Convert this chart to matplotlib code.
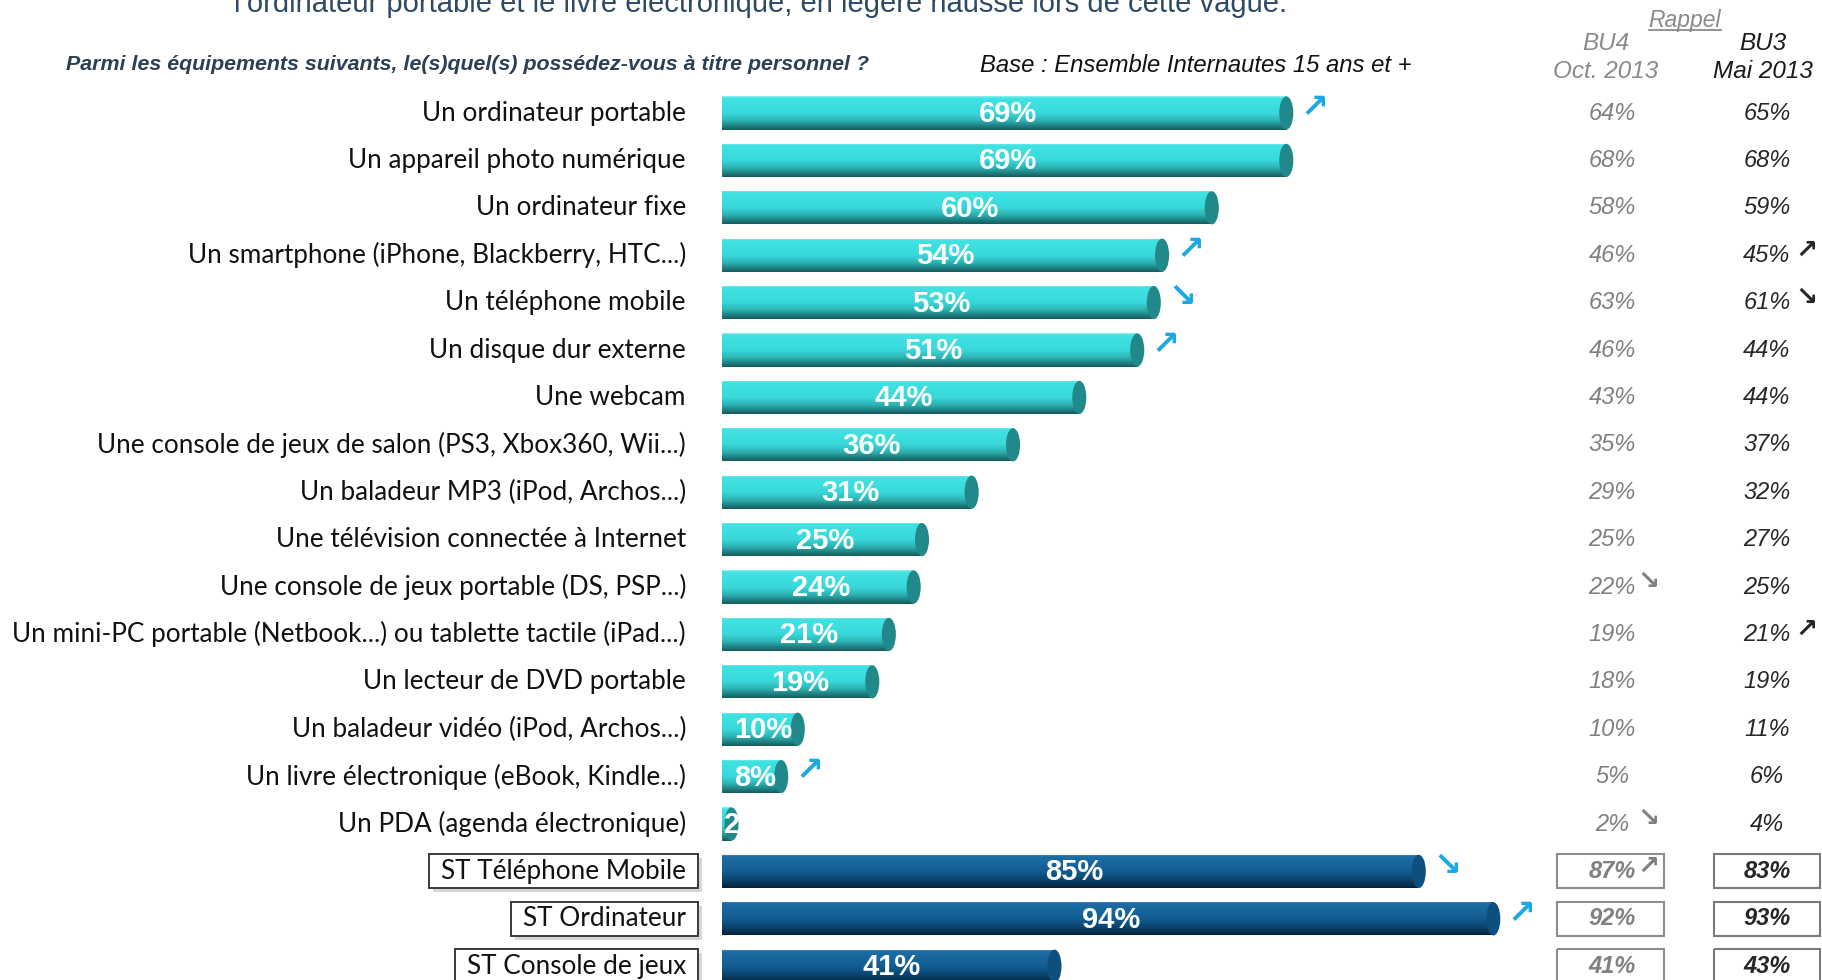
import matplotlib
matplotlib.use("Agg")
import matplotlib.pyplot as plt
import numpy as np
from matplotlib.patches import Rectangle, Ellipse
from matplotlib.colors import LinearSegmentedColormap
from matplotlib.lines import Line2D

# ---- data ----
categories = [
    "Un ordinateur portable",
    "Un appareil photo numérique",
    "Un ordinateur fixe",
    "Un smartphone (iPhone, Blackberry, HTC...)",
    "Un téléphone mobile",
    "Un disque dur externe",
    "Une webcam",
    "Une console de jeux de salon (PS3, Xbox360, Wii...)",
    "Un baladeur MP3 (iPod, Archos...)",
    "Une télévision connectée à Internet",
    "Une console de jeux portable (DS, PSP...)",
    "Un mini-PC portable (Netbook...) ou tablette tactile (iPad...)",
    "Un lecteur de DVD portable",
    "Un baladeur vidéo (iPod, Archos...)",
    "Un livre électronique (eBook, Kindle...)",
    "Un PDA (agenda électronique)",
    "ST Téléphone Mobile",
    "ST Ordinateur",
    "ST Console de jeux",
]
values = [69, 69, 60, 54, 53, 51, 44, 36, 31, 25, 24, 21, 19, 10, 8, 2, 85, 94, 41]
bu4_oct2013 = [64, 68, 58, 46, 63, 46, 43, 35, 29, 25, 22, 19, 18, 10, 5, 2, 87, 92, 41]
bu3_mai2013 = [65, 68, 59, 45, 61, 44, 44, 37, 32, 27, 25, 21, 19, 11, 6, 4, 83, 93, 43]
is_subtotal = [False] * 16 + [True] * 3

UP, DOWN = "\u2197", "\u2198"
trend_now = {0: UP, 3: UP, 4: DOWN, 5: UP, 14: UP, 16: DOWN, 17: UP}
trend_bu4 = {10: DOWN, 15: DOWN, 16: UP}
trend_bu3 = {3: UP, 4: DOWN, 11: UP}

title = "l’ordinateur portable et le livre électronique, en légère hausse lors de cette vague."
question = "Parmi les équipements suivants, le(s)quel(s) possédez-vous à titre personnel ?"
base = "Base : Ensemble Internautes 15 ans et +"

# ---- layout (pixel geometry of the slide) ----
W, H = 1822, 980
X0_PX, PX_PER_PCT = 722, 8.28
Y0_PX, ROW_PX = 113, 47.4

NARROW = ["Liberation Sans Narrow", "Liberation Sans", "DejaVu Sans"]
ARIAL = ["Liberation Sans", "DejaVu Sans"]
LABEL = ["Lato", "DejaVu Sans"]
SYM = ["DejaVu Sans"]

cyan = LinearSegmentedColormap.from_list("cyan", [
    (0.0, "#8ff0ef"), (0.07, "#40e2e2"), (0.5, "#39d9db"),
    (0.72, "#2db4b5"), (1.0, "#165a5c")])
navy = LinearSegmentedColormap.from_list("navy", [
    (0.0, "#4a93c4"), (0.07, "#1c6ea6"), (0.5, "#135d93"),
    (0.75, "#0b4570"), (1.0, "#04233a")])

fig = plt.figure(figsize=(W / 100, H / 100), dpi=100)
ax = fig.add_axes([0, 0, 1, 1])
xlim = (-X0_PX / PX_PER_PCT, (W - X0_PX) / PX_PER_PCT)
ylim = ((H - Y0_PX) / ROW_PX, -Y0_PX / ROW_PX)
ax.axis("off")

bar_h = 0.70
cap_w = 1.7
grad = np.linspace(0, 1, 256).reshape(-1, 1)
st_labels = []

for i, (cat, v) in enumerate(zip(categories, values)):
    sub = is_subtotal[i]
    cmap = navy if sub else cyan
    cap_col = "#0d4f7e" if sub else "#21898a"
    body_end = v - cap_w / 2
    clip = Rectangle((0, i - bar_h / 2), body_end, bar_h, fc="none", ec="none")
    ax.add_patch(clip)
    im = ax.imshow(grad, cmap=cmap, aspect="auto", origin="upper",
                   extent=(0, body_end, i + bar_h / 2, i - bar_h / 2), zorder=2)
    im.set_clip_path(clip)
    ax.add_patch(Ellipse((0.35, i), 0.7, bar_h, fc=cmap(0.45), ec="none", zorder=1.9))
    ax.add_patch(Ellipse((body_end, i), cap_w, bar_h, fc=cap_col, ec="none", zorder=3))

    full = Rectangle((0, i - bar_h / 2), v, bar_h, fc="none", ec="none")
    ax.add_patch(full)
    if v >= 5:
        t = ax.text(v / 2, i + 0.02, f"{v}%", ha="center", va="center", color="white",
                    fontsize=21, fontweight="bold", family=NARROW, zorder=4)
    else:
        t = ax.text(0.25, i + 0.02, f"{v}%", ha="left", va="center", color="white",
                    fontsize=21, fontweight="bold", family=NARROW, zorder=4)
    t.set_clip_path(full)

    if i in trend_now:
        ax.text(v + 0.9, i - 0.12, trend_now[i], ha="left", va="center", color="#1aa8e6",
                fontsize=24, fontweight="bold", family=SYM, zorder=4)

    lab = ax.text(-4.35, i, cat, ha="right", va="center", fontsize=18.8, family=LABEL,
                  color="#111111", zorder=5)
    if sub:
        st_labels.append(lab)

    # recall columns
    w = "bold" if sub else "normal"
    ax.text(107.5, i, f"{bu4_oct2013[i]}%", ha="center", va="center", style="italic",
            fontweight=w, color="#808080", fontsize=17, family=ARIAL)
    ax.text(126.2, i, f"{bu3_mai2013[i]}%", ha="center", va="center", style="italic",
            fontweight=w, color="#262626", fontsize=17, family=ARIAL)
    if sub:
        ax.add_patch(Rectangle((100.8, i - 0.36), 13.0, 0.72, fc="none", ec="#8c8c8c", lw=1.5))
        ax.add_patch(Rectangle((119.8, i - 0.36), 12.8, 0.72, fc="none", ec="#7a7a7a", lw=1.5))
    if i in trend_bu4:
        ax.text(110.6, i - 0.1, trend_bu4[i], ha="left", va="center", color="#808080",
                fontsize=19, fontweight="bold", family=SYM)
    if i in trend_bu3:
        ax.text(129.6, i - 0.1, trend_bu3[i], ha="left", va="center", color="#262626",
                fontsize=19, fontweight="bold", family=SYM)

# headers
ax.text(4.7, (12 - Y0_PX) / ROW_PX, title, ha="center", va="baseline", fontsize=21,
        color="#2f4a64", family=ARIAL)
ax.text(-79.2, (65 - Y0_PX) / ROW_PX, question, ha="left", va="center", fontsize=15.4,
        color="#2b3f55", style="italic", fontweight="bold", family=NARROW)
ax.text(57.2, (65 - Y0_PX) / ROW_PX, base, ha="center", va="center", fontsize=17.2,
        color="#111111", style="italic", family=NARROW)
rappel = ax.text(116.3, (20 - Y0_PX) / ROW_PX, "Rappel", ha="center", va="center",
                 fontsize=16.5, color="#8a8a8a", style="italic", family=NARROW)
ax.text(106.7, (44 - Y0_PX) / ROW_PX, "BU4", ha="center", va="center", fontsize=17.5,
        color="#8a8a8a", style="italic", family=NARROW)
ax.text(106.7, (72 - Y0_PX) / ROW_PX, "Oct. 2013", ha="center", va="center", fontsize=17.5,
        color="#8a8a8a", style="italic", family=NARROW)
ax.text(125.7, (44 - Y0_PX) / ROW_PX, "BU3", ha="center", va="center", fontsize=17.5,
        color="#1a1a1a", style="italic", family=NARROW)
ax.text(125.7, (72 - Y0_PX) / ROW_PX, "Mai 2013", ha="center", va="center", fontsize=17.5,
        color="#1a1a1a", style="italic", family=NARROW)

ax.set_xlim(*xlim)
ax.set_ylim(*ylim)

# underline "Rappel" and frame the subtotal labels
fig.canvas.draw()
bb = rappel.get_window_extent()
fig.add_artist(Line2D([bb.x0 / W, bb.x1 / W], [(bb.y0 + 1) / H, (bb.y0 + 1) / H],
                      color="#8a8a8a", lw=1.3))
for lab in st_labels:
    bb = lab.get_window_extent()
    cy = (bb.y0 + bb.y1) / 2
    x0, x1 = bb.x0 - 12, bb.x1 + 12
    y0, y1 = cy - 17, cy + 17
    fig.add_artist(Rectangle(((x0 + 4) / W, (y0 - 4) / H), (x1 - x0) / W, (y1 - y0) / H,
                             fc="#bdbdbd", ec="none", alpha=0.6, zorder=3))
    fig.add_artist(Rectangle((x0 / W, y0 / H), (x1 - x0) / W, (y1 - y0) / H,
                             fc="white", ec="#3a3a3a", lw=1.4, zorder=3.5))
    # keep the label text above its frame
    lab.remove()
    fig.add_artist(lab)
    lab.set_zorder(4)

fig.savefig("out.png", dpi=100)
